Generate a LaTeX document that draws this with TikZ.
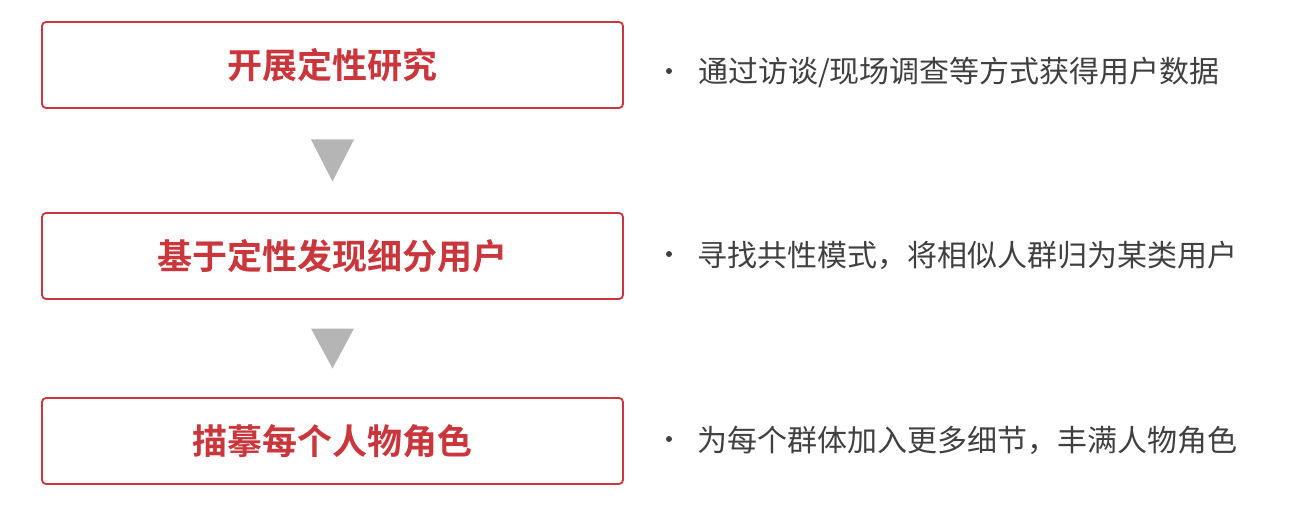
\documentclass[tikz,border=0pt]{standalone}
\usepackage{fontspec}
\newfontfamily\cjk{Noto Sans CJK SC}
\newfontfamily\cjkb{Noto Sans CJK SC Bold}
\usetikzlibrary{calc}
\definecolor{boxred}{HTML}{C9363B}
\definecolor{txtgray}{HTML}{404040}
\definecolor{trigray}{HTML}{B5B5B5}
\tikzset{
  stepbox/.style={draw=boxred, line width=1.8pt, rounded corners=4pt, fill=white,
    minimum width=581pt, minimum height=86pt, inner sep=0pt,
    font=\cjkb\fontsize{35}{38}\selectfont, text=boxred},
  note/.style={anchor=west, inner sep=0pt, font=\cjk\fontsize{30}{34}\selectfont, text=txtgray},
  dot/.style={circle, fill=txtgray, inner sep=0pt, minimum size=6pt},
  tri/.style={fill=trigray}
}
\begin{document}
\begin{tikzpicture}[x=1pt,y=1pt]
\useasboundingbox (0,0) rectangle (1300,504);
\node[stepbox] (b1) at (332.5,439) {开展定性研究};
\node[stepbox] (b2) at (332.5,248) {基于定性发现细分用户};
\node[stepbox] (b3) at (332.5,63) {描摹每个人物角色};
% arrows between boxes
\coordinate (t1) at ($(b1.south)!0.5!(b2.north)$);
\coordinate (t2) at ($(b2.south)!0.5!(b3.north)$);
\fill[tri] ($(t1)+(-21.5,21)$) -- ($(t1)+(21.5,21)$) -- ($(t1)+(0,-21)$) -- cycle;
\fill[tri] ($(t2)+(-21.5,20)$) -- ($(t2)+(21.5,20)$) -- ($(t2)+(0,-20)$) -- cycle;
% notes
\node[dot] (d1) at (669,433) {};
\node[note] (n1) at (698,432) {通过访谈/现场调查等方式获得用户数据};
\node[dot] (d2) at (669,250) {};
\node[note] (n2) at (697,249) {寻找共性模式，将相似人群归为某类用户};
\node[dot] (d3) at (669,65) {};
\node[note] (n3) at (697,64) {为每个群体加入更多细节，丰满人物角色};
\end{tikzpicture}
\end{document}
